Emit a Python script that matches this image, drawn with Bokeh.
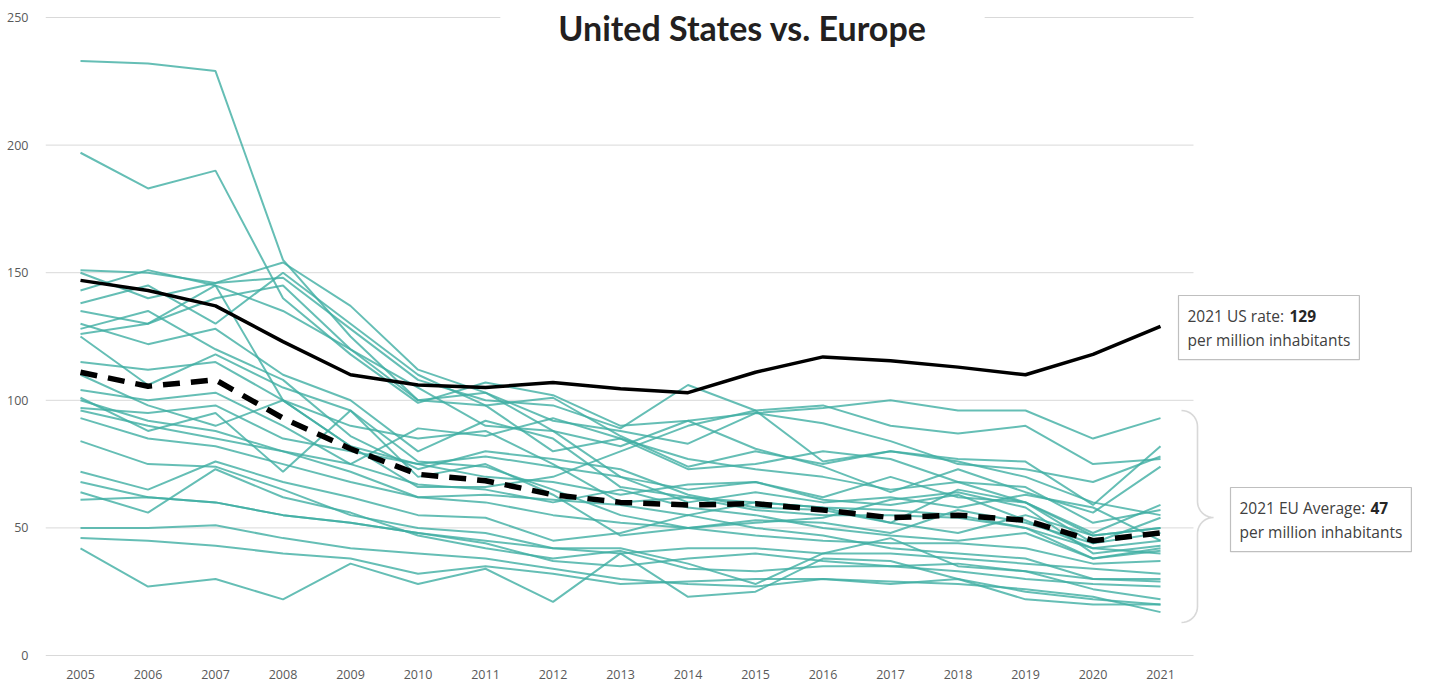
from bokeh.plotting import figure
from bokeh.models import Label, PolyAnnotation, FixedTicker, Range1d
from bokeh.embed import file_html
from bokeh.resources import INLINE
import math

years = list(range(2005, 2022))
y_ticks = [0, 50, 100, 150, 200, 250]

us_rate = [147, 143, 137, 123, 110, 106, 105, 107, 104.5, 103, 111, 117, 115.5, 113, 110, 118, 129]
eu_average = [111, 105.5, 108, 93, 81, 71, 68.5, 63, 60, 59, 59.5, 57, 54, 55, 53, 45, 48]

eu_countries = [
    [233, 232, 229, 155, 125, 100, 98, 101, 86, 74, 80, 75, 80, 76, 70, 60, 55],
    [197, 183, 190, 140, 118, 99, 107, 102, 90, 92, 95, 97, 100, 96, 96, 85, 93],
    [151, 150, 146, 154, 137, 112, 103, 92, 88, 83, 95, 91, 84, 75, 73, 68, 78],
    [150, 140, 146, 148, 128, 108, 100, 98, 89, 106, 96, 76, 80, 77, 76, 59, 82],
    [143, 151, 145, 135, 120, 100, 103, 88, 82, 92, 81, 74, 64, 73, 64, 56, 74],
    [138, 145, 130, 150, 130, 110, 98, 80, 85, 77, 73, 70, 65, 68, 66, 52, 57],
    [135, 130, 140, 145, 120, 105, 90, 88, 70, 65, 68, 62, 70, 62, 60, 48, 59],
    [130, 122, 128, 110, 100, 80, 92, 85, 66, 62, 57, 55, 55, 54, 50, 42, 45],
    [126, 130, 145, 100, 90, 85, 88, 75, 60, 62, 60, 58, 52, 65, 60, 47, 50],
    [125, 106, 118, 105, 96, 76, 74, 65, 55, 50, 53, 52, 48, 57, 52, 44, 48],
    [115, 112, 115, 100, 82, 66, 66, 70, 80, 90, 96, 98, 90, 87, 90, 75, 77],
    [104, 100, 103, 90, 75, 89, 86, 93, 85, 73, 75, 80, 77, 68, 60, 44, 54],
    [101, 88, 95, 72, 96, 70, 75, 63, 47, 50, 52, 54, 61, 64, 58, 40, 43],
    [100, 92, 88, 80, 75, 67, 65, 60, 65, 58, 55, 50, 47, 45, 48, 38, 42],
    [96, 90, 85, 80, 72, 62, 63, 61, 59, 55, 60, 58, 57, 55, 50, 38, 41],
    [93, 85, 82, 75, 68, 62, 60, 55, 52, 50, 47, 45, 44, 44, 42, 36, 37],
    [84, 75, 74, 65, 55, 50, 48, 42, 40, 42, 42, 40, 40, 38, 36, 34, 32],
    [72, 65, 76, 68, 62, 55, 54, 45, 48, 55, 50, 47, 42, 40, 38, 30, 30],
    [68, 62, 60, 55, 52, 48, 44, 37, 35, 38, 40, 37, 35, 33, 30, 28, 27],
    [64, 56, 73, 62, 56, 47, 42, 38, 41, 34, 33, 35, 35, 36, 33, 26, 22],
    [61, 62, 60, 55, 52, 48, 45, 42, 42, 36, 28, 40, 46, 35, 33, 30, 29],
    [50, 50, 51, 46, 42, 40, 38, 34, 30, 28, 27, 30, 28, 30, 25, 22, 20],
    [46, 45, 43, 40, 38, 32, 35, 32, 28, 29, 30, 30, 29, 28, 26, 23, 17],
    [42, 27, 30, 22, 36, 28, 34, 21, 40, 23, 25, 38, 37, 30, 22, 20, 20],
    [110, 98, 90, 100, 82, 75, 78, 74, 70, 60, 64, 60, 62, 58, 63, 58, 45],
    [97, 95, 98, 85, 80, 75, 70, 68, 63, 67, 68, 61, 59, 63, 53, 42, 40],
    [128, 135, 120, 108, 86, 73, 80, 77, 73, 63, 58, 57, 52, 48, 55, 47, 50],
]

title_text = "United States vs. Europe"
us_note = ("2021 US rate:\nper million inhabitants", "129")
eu_note = ("2021 EU Average:\nper million inhabitants", "47")

# layout (page pixels; Bokeh page has no body margin)
W, H = 1430, 684
FL, FR, FT, FB = 45, 1428, 4, 658
PX_PER_YEAR = 67.5
PX_PER_UNIT = 2.552
X0 = 2005 - (80 - FL) / PX_PER_YEAR
X1 = 2005 + (FR - 80) / PX_PER_YEAR
Y0 = -(FB - 655) / PX_PER_UNIT
Y1 = 250 + (17 - FT) / PX_PER_UNIT
GRID_END = 2021 + (1193 - 1160) / PX_PER_YEAR

def xd(px):
    return X0 + (px - FL) / PX_PER_YEAR

def yd(py):
    return Y0 + (FB - py) / PX_PER_UNIT

p = figure(width=W, height=H, output_backend="svg", toolbar_location=None,
           x_range=Range1d(X0, X1), y_range=Range1d(Y0, Y1),
           min_border_left=FL, min_border_right=W - FR,
           min_border_top=FT, min_border_bottom=H - FB)
p.outline_line_color = None
p.xgrid.grid_line_color = None
p.ygrid.grid_line_color = None

for ax in (p.xaxis[0], p.yaxis[0]):
    ax.axis_line_color = None
    ax.major_tick_line_color = None
    ax.minor_tick_line_color = None
    ax.major_label_text_font = "Open Sans"
    ax.major_label_text_font_size = "12.5px"
    ax.major_label_text_color = "#595959"
p.xaxis.ticker = FixedTicker(ticks=years)
p.yaxis.ticker = FixedTicker(ticks=y_ticks)
p.xaxis.major_label_standoff = 5
p.yaxis.major_label_standoff = 11

# horizontal gridlines, ending at the right edge of the data area
p.segment(x0=[X0] * len(y_ticks), x1=[GRID_END] * len(y_ticks), y0=y_ticks, y1=y_ticks,
          line_color="#d9d9d9", line_width=1)

for series in eu_countries:
    p.line(years, series, line_color="#3faea3", line_alpha=0.8, line_width=2)

p.line(years, us_rate, line_color="black", line_width=3.5)
p.line(years, eu_average, line_color="black", line_width=5.5, line_dash="17 11")

# title
p.add_layout(Label(x=xd(742), y=yd(27), text=title_text, text_align="center",
                   text_baseline="middle", text_font="Lato", text_font_style="bold",
                   text_font_size="34px", text_color="#231f20",
                   background_fill_color="white", padding=58))

NOTE_FONT = "Open Sans"
NOTE_SIZE = "15.5px"
NOTE_LH = 1.1
PAD = 9

def note(px_left, py_top, texts, bold_px):
    p.add_layout(Label(x=xd(px_left), y=yd(py_top), text=texts[0], text_align="left",
                       text_baseline="top", text_font=NOTE_FONT, text_font_size=NOTE_SIZE,
                       text_color="#404040", text_line_height=NOTE_LH,
                       background_fill_color="white", border_line_color="#bfbfbf",
                       border_line_width=1.2, padding=PAD))
    p.add_layout(Label(x=xd(bold_px), y=yd(py_top + PAD + 5), text=texts[1], text_align="left",
                       text_baseline="top", text_font=NOTE_FONT, text_font_size=NOTE_SIZE,
                       text_font_style="bold", text_color="#262626"))

note(1178, 295, us_note, 1289)
note(1230, 487, eu_note, 1370)

# curly brace
pts = []
r = 16
n = 10
for i in range(n + 1):
    t = math.pi / 2 * i / n
    pts.append((1181 + r * math.sin(t), 410 + r - r * math.cos(t)))
for i in range(n + 1):
    t = math.pi / 2 * i / n
    pts.append((1213 - r * math.cos(t), 517 - r + r * math.sin(t)))
for i in range(n + 1):
    t = math.pi / 2 * i / n
    pts.append((1213 - r * math.sin(t), 517 + r - r * math.cos(t)))
for i in range(n + 1):
    t = math.pi / 2 * i / n
    pts.append((1181 + r * math.cos(t), 622 - r + r * math.sin(t)))
path = pts + pts[::-1]
p.add_layout(PolyAnnotation(xs=[xd(a) for a, b in path], ys=[yd(b) for a, b in path],
                            fill_alpha=0, line_color="#7f7f7f", line_width=1.6))

open("out.html", "w").write(file_html(p, INLINE))
